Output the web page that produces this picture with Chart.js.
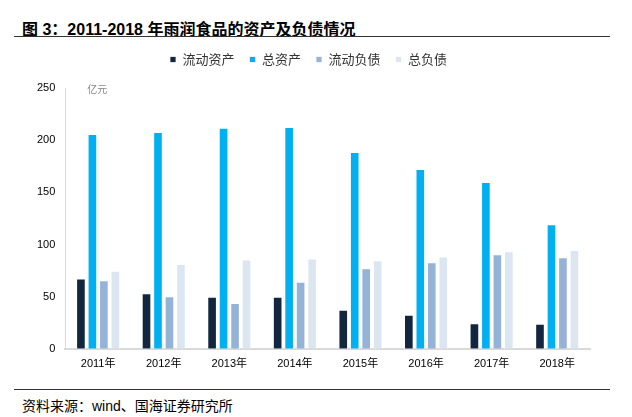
<!DOCTYPE html>
<html>
<head>
<meta charset="utf-8">
<script src="https://cdn.jsdelivr.net/npm/chart.js@4"></script>
<style>
  body { margin: 0; background: #fff; font-family: "Liberation Sans", "Noto Sans CJK SC", sans-serif; }
  #page { position: relative; width: 632px; height: 417px; overflow: hidden; }
  #title { position: absolute; left: 22px; top: 16px; font-size: 16px; font-weight: bold; color: #000; }
  #rule1 { position: absolute; left: 14px; top: 36px; width: 596px; height: 1px; background: #333; }
  #rule2 { position: absolute; left: 14px; top: 389px; width: 596px; height: 1px; background: #333; }
  #source { position: absolute; left: 22px; top: 395px; font-size: 14px; color: #000; }
  #wrap { position: absolute; left: 0; top: 38px; width: 632px; height: 334px; }
</style>
</head>
<body>
<div id="page">
  <div id="title">图 3：2011-2018 年雨润食品的资产及负债情况</div>
  <div id="rule1"></div>
  <div id="wrap"><canvas id="chart"></canvas></div>
  <div id="rule2"></div>
  <div id="source">资料来源：wind、国海证券研究所</div>
</div>
<script>
'use strict';

const years = ['2011年', '2012年', '2013年', '2014年', '2015年', '2016年', '2017年', '2018年'];
const currentAssets = [67.3, 53.3, 49.8, 49.8, 37.4, 32.6, 24.6, 24.0];
const totalAssets = [206.0, 207.8, 212.0, 212.6, 188.7, 172.4, 160.0, 119.4];
const currentLiabilities = [65.8, 50.4, 44.0, 64.2, 77.3, 83.0, 90.7, 87.8];
const totalLiabilities = [74.7, 81.4, 85.6, 86.5, 84.9, 88.4, 93.6, 94.8];
const seriesNames = ['流动资产', '总资产', '流动负债', '总负债'];
const unitLabel = '亿元';

const colors = ['#12263f', '#00b0f0', '#95b3d7', '#dce6f1'];

// extra room under the legend
const legendGap = {
  id: 'legendGap',
  beforeInit(chart) {
    const fit = chart.legend.fit;
    chart.legend.fit = function () {
      fit.bind(chart.legend)();
      this.height += 12;
    };
  }
};

const unitPlugin = {
  id: 'unitLabel',
  afterDraw(chart) {
    const ctx = chart.ctx;
    const area = chart.chartArea;
    ctx.save();
    ctx.fillStyle = '#888';
    ctx.font = '10px "Noto Sans CJK SC", sans-serif';
    ctx.textAlign = 'left';
    ctx.textBaseline = 'middle';
    ctx.fillText(unitLabel, area.left + 22, area.top + 1);
    ctx.restore();
  }
};

const ctx = document.getElementById('chart').getContext('2d');
new Chart(ctx, {
  type: 'bar',
  data: {
    labels: years,
    datasets: [currentAssets, totalAssets, currentLiabilities, totalLiabilities].map((d, i) => ({
      label: seriesNames[i],
      data: d,
      backgroundColor: colors[i],
      borderColor: '#ffffff',
      borderWidth: { left: 1, right: 1, top: 1, bottom: 0 },
      categoryPercentage: 0.7,
      barPercentage: 0.84
    }))
  },
  options: {
    animation: false,
    responsive: true,
    maintainAspectRatio: false,
    layout: { padding: { left: 27, right: 42, top: 0, bottom: 0 } },
    scales: {
      x: {
        grid: { display: false },
        border: { color: '#d9d9d9', width: 2 },
        ticks: { color: '#000', font: { size: 11, family: '"Liberation Sans", "Noto Sans CJK SC", sans-serif' }, padding: 1 }
      },
      y: {
        min: 0,
        max: 250,
        ticks: { stepSize: 50, color: '#000', font: { size: 11, family: '"Liberation Sans", sans-serif' }, padding: 10 },
        grid: { display: false, drawTicks: false },
        border: { color: '#d9d9d9', width: 1 }
      }
    },
    plugins: {
      legend: {
        position: 'top',
        labels: {
          color: '#333',
          font: { size: 13, family: '"Noto Sans CJK SC", sans-serif' },
          usePointStyle: true,
          pointStyle: 'rect',
          boxWidth: 6,
          boxHeight: 6,
          padding: 15
        }
      },
      tooltip: { enabled: false }
    }
  },
  plugins: [legendGap, unitPlugin]
});
</script>
</body>
</html>
